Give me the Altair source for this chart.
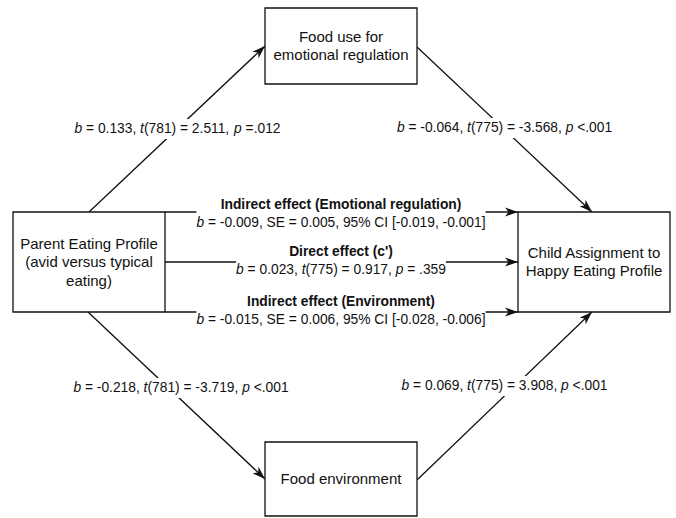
import math
import re
import altair as alt
import pandas as pd

# ---- model results -------------------------------------------------------
# a-paths (parent profile -> mediator) and b-paths (mediator -> child profile)
path_b = [0.133, -0.064, -0.218, 0.069]
path_df = [781, 775, 781, 775]
path_t = [2.511, -3.568, -3.719, 3.908]
path_p = ["=.012", "<.001", "<.001", "<.001"]

# direct effect (c')
direct_b = 0.023
direct_df = 775
direct_t = 0.917
direct_p = ".359"

# indirect effects through each mediator
indirect_names = ["Emotional regulation", "Environment"]
indirect_b = [-0.009, -0.015]
indirect_se = [0.005, 0.006]
indirect_ci_low = [-0.019, -0.028]
indirect_ci_high = [-0.001, -0.006]

# node captions
node_labels = [
    "Parent Eating Profile\n(avid versus typical\neating)",
    "Food use for\nemotional regulation",
    "Food environment",
    "Child Assignment to\nHappy Eating Profile",
]

# ---- layout ----------------------------------------------------------------
W, H = 676, 518
FONT = "Liberation Sans"
FS = 13.8
LH = 18.5
INK = "#111111"

boxes = pd.DataFrame({
    "x": [13, 265, 265, 518], "x2": [165, 417, 417, 670],
    "y": [212, 8, 442, 212], "y2": [312, 84, 516, 312],
    "label": node_labels,
})
boxes["cx"] = (boxes.x + boxes.x2) / 2
# multi-line text is anchored on its first line: lift it so the block is centred
n_lines = boxes.label.str.count("\n")
boxes["cy"] = (boxes.y + boxes.y2) / 2 - n_lines * LH / 2

edges = pd.DataFrame({
    "x": [89, 417, 88, 417, 165, 165, 165],
    "y": [212, 47, 312, 480, 212, 262, 312],
    "x2": [265, 592, 265, 592, 518, 518, 518],
    "y2": [46, 212, 479, 312, 212, 262, 312],
})

# arrowheads sit at each edge's end, rotated along the edge
AH = 13.0
dx = edges.x2 - edges.x
dy = edges.y2 - edges.y
ln = (dx ** 2 + dy ** 2) ** 0.5
heads = pd.DataFrame({
    "x": edges.x2 - dx / ln * AH / 2,
    "y": edges.y2 - dy / ln * AH / 2,
    "ang": [math.degrees(math.atan2(b, a)) % 360 for a, b in zip(dx, dy)],
})
ARROW = "M1,0 L-1,-0.68 L-0.45,0 L-1,0.68 Z"

# Liberation Sans / Arial advance widths (1/1000 em); italic shares them
ADV = {**{d: 556 for d in "0123456789"}, " ": 278, ".": 278, ",": 278, "=": 584,
       "<": 584, "-": 333, "(": 333, ")": 333, "[": 278, "]": 278, "%": 889,
       "'": 191, "b": 556, "t": 278, "p": 556, "c": 500, "S": 667, "E": 667,
       "C": 722, "I": 278}


def text_width(s, fs=FS):
    return sum(ADV.get(ch, 556) for ch in s) * fs / 1000


# statistical symbols b, t and p are set in italics
ITALIC = re.compile(r"(?<![A-Za-z])([btp])(?=[ (])")


def split_italic(s):
    parts, pos = [], 0
    for m in ITALIC.finditer(s):
        if m.start() > pos:
            parts.append((s[pos:m.start()], False))
        parts.append((m.group(1), True))
        pos = m.end()
    if pos < len(s):
        parts.append((s[pos:], False))
    return parts


def fmt(v):
    return f"{v:.3f}"


stat_lines = []   # (text, cx, cy)
for i, (cx, cy) in enumerate([(177.5, 129), (504.5, 128), (181, 388), (504.5, 386)]):
    stat_lines.append((f"b = {fmt(path_b[i])}, t({path_df[i]}) = {fmt(path_t[i])}, p {path_p[i]}", cx, cy))

head_lines = []   # (bold text, cx, cy)
MID = 341
rows = [
    (f"Indirect effect ({indirect_names[0]})",
     f"b = {fmt(indirect_b[0])}, SE = {fmt(indirect_se[0])}, 95% CI [{fmt(indirect_ci_low[0])}, {fmt(indirect_ci_high[0])}]",
     205, 223),
    ("Direct effect (c')",
     f"b = {fmt(direct_b)}, t({direct_df}) = {fmt(direct_t)}, p = {direct_p}",
     252, 270),
    (f"Indirect effect ({indirect_names[1]})",
     f"b = {fmt(indirect_b[1])}, SE = {fmt(indirect_se[1])}, 95% CI [{fmt(indirect_ci_low[1])}, {fmt(indirect_ci_high[1])}]",
     302, 320),
]

bgs = []
for bold, stat, yb, ys in rows:
    head_lines.append((bold, MID, yb))
    stat_lines.append((stat, MID, ys))
    w = text_width(stat)
    bgs.append({"x": MID - w / 2, "x2": MID + w / 2, "y": yb - 9, "y2": ys + 9})
for s, cx, cy in stat_lines[:4]:
    w = text_width(s)
    bgs.append({"x": cx - w / 2 - 2, "x2": cx + w / 2 + 2, "y": cy - 10, "y2": cy + 10})
bgs = pd.DataFrame(bgs)

segs = []
for s, cx, cy in stat_lines:
    x = cx - text_width(s) / 2
    for part, ital in split_italic(s):
        lead = len(part) - len(part.lstrip(" "))
        segs.append({"x": x + text_width(part[:lead]), "y": cy,
                     "text": part.strip(" "), "italic": ital})
        x += text_width(part)
segs = pd.DataFrame(segs)
heads_txt = pd.DataFrame(head_lines, columns=["text", "x", "y"])

# ---- chart -----------------------------------------------------------------
XS = alt.Scale(domain=[0, W], nice=False, zero=False)
YS = alt.Scale(domain=[0, H], nice=False, zero=False, reverse=True)
X = lambda f="x": alt.X(f"{f}:Q", scale=XS, axis=None)
Y = lambda f="y": alt.Y(f"{f}:Q", scale=YS, axis=None)

edge_layer = alt.Chart(edges).mark_rule(color=INK, strokeWidth=1.3).encode(
    x=X(), y=Y(), x2="x2:Q", y2="y2:Q")

head_layer = alt.Chart(heads).mark_point(
    shape=ARROW, filled=True, fill=INK, strokeWidth=0, size=AH * AH, opacity=1
).encode(x=X(), y=Y(), angle=alt.Angle("ang:Q", scale=None))

bg_layer = alt.Chart(bgs).mark_rect(fill="white", strokeWidth=0).encode(
    x=X(), x2="x2:Q", y=Y(), y2="y2:Q")

box_layer = alt.Chart(boxes).mark_rect(fill="white", stroke=INK, strokeWidth=1.3).encode(
    x=X(), x2="x2:Q", y=Y(), y2="y2:Q")

node_text = alt.Chart(boxes).mark_text(
    font=FONT, fontSize=15, lineBreak="\n", lineHeight=LH, align="center",
    baseline="middle", color=INK
).encode(x=X("cx"), y=Y("cy"), text="label:N")

bold_text = alt.Chart(heads_txt).mark_text(
    font=FONT, fontSize=FS, fontWeight="bold", align="center", baseline="middle", color=INK
).encode(x=X(), y=Y(), text="text:N")

plain_text = alt.Chart(segs[~segs.italic]).mark_text(
    font=FONT, fontSize=FS, align="left", baseline="middle", color=INK
).encode(x=X(), y=Y(), text="text:N")

italic_text = alt.Chart(segs[segs.italic]).mark_text(
    font=FONT, fontSize=FS, fontStyle="italic", align="left", baseline="middle", color=INK
).encode(x=X(), y=Y(), text="text:N")

chart = alt.layer(
    edge_layer, head_layer, bg_layer, box_layer,
    node_text, bold_text, plain_text, italic_text
).properties(
    width=W, height=H, autosize="none", padding=0, background="white"
).configure_view(stroke=None)

chart.save("out.html", embed_options={"renderer": "svg", "actions": False})
